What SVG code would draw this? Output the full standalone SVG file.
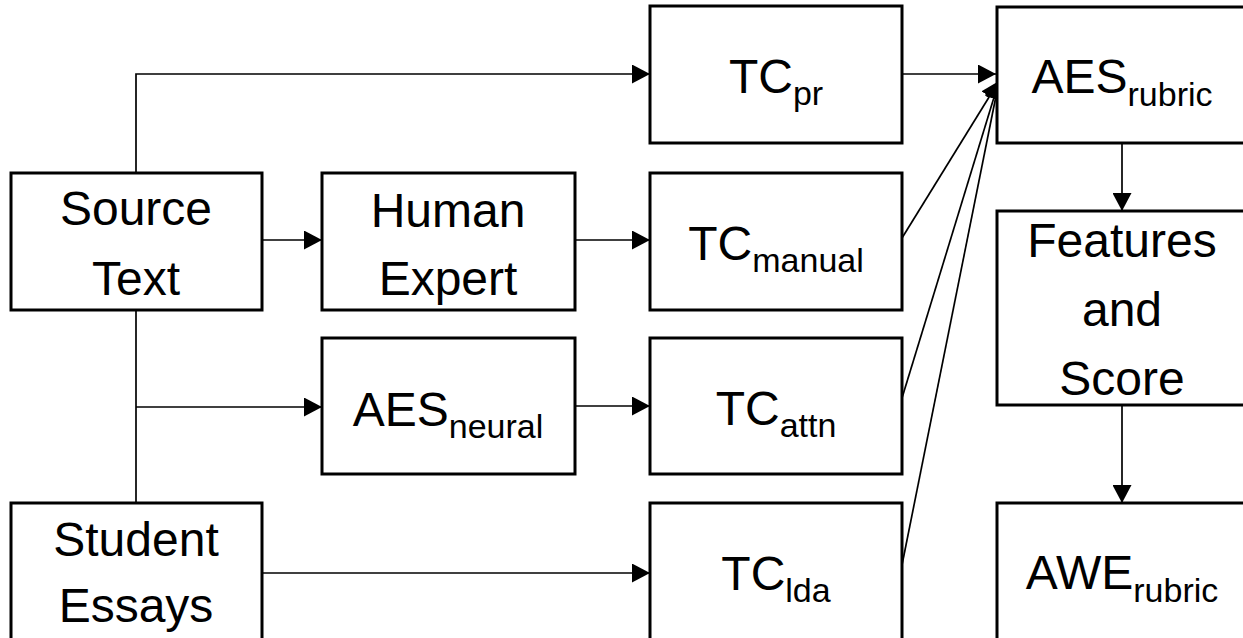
<svg xmlns="http://www.w3.org/2000/svg" width="1243" height="638" viewBox="0 0 1243 638">
  <style>
    .box { fill: #ffffff; stroke: #000000; stroke-width: 3; }
    .lbl { font-family: "Liberation Sans", Arial, sans-serif; font-size: 48px; fill: #000000; text-anchor: middle; }
    .sub { font-size: 34px; }
    .wire { fill: none; stroke: #000000; stroke-width: 1.7; }
    .arr { marker-end: url(#head); }
  </style>
  <defs>
    <marker id="head" markerUnits="userSpaceOnUse" markerWidth="19" markerHeight="19" refX="18" refY="9.5" orient="auto" viewBox="0 0 19 19">
      <path d="M0,0 L18,9.5 L0,19 Z" fill="#000000"/>
    </marker>
  </defs>

  <rect width="1243" height="638" fill="#ffffff"/>

  <!-- connectors -->
  <g id="connectors">
    <polyline class="wire arr" points="136,173 136,74 650,74"/>
    <line class="wire arr" x1="262" y1="240" x2="322" y2="240"/>
    <line class="wire arr" x1="575" y1="240" x2="650" y2="240"/>
    <line class="wire" x1="136" y1="310" x2="136" y2="503"/>
    <line class="wire arr" x1="136" y1="407" x2="322" y2="407"/>
    <line class="wire arr" x1="575" y1="406" x2="650" y2="406"/>
    <line class="wire arr" x1="262" y1="573" x2="650" y2="573"/>
    <line class="wire arr" x1="902" y1="74" x2="996" y2="74"/>
    <line class="wire arr" x1="902" y1="238" x2="999" y2="81"/>
    <line class="wire arr" x1="902" y1="398" x2="999" y2="81"/>
    <line class="wire arr" x1="902" y1="565" x2="999" y2="81"/>
    <line class="wire arr" x1="1122" y1="143" x2="1122" y2="211"/>
    <line class="wire arr" x1="1122" y1="405" x2="1122" y2="503"/>
  </g>

  <!-- input nodes -->
  <g id="source-text">
    <rect class="box" x="11" y="173" width="251" height="137"/>
    <text class="lbl" x="136" y="225">Source</text>
    <text class="lbl" x="136" y="295">Text</text>
  </g>
  <g id="student-essays">
    <rect class="box" x="11" y="503" width="251" height="137"/>
    <text class="lbl" x="136" y="556">Student</text>
    <text class="lbl" x="136" y="622">Essays</text>
  </g>

  <!-- intermediate nodes -->
  <g id="human-expert">
    <rect class="box" x="322" y="173" width="253" height="137"/>
    <text class="lbl" x="448" y="227">Human</text>
    <text class="lbl" x="448" y="295">Expert</text>
  </g>
  <g id="aes-neural">
    <rect class="box" x="322" y="338" width="253" height="136"/>
    <text class="lbl" x="448" y="426">AES<tspan class="sub" dy="12">neural</tspan></text>
  </g>

  <!-- topic component nodes -->
  <g id="tc-pr">
    <rect class="box" x="650" y="6" width="252" height="137"/>
    <text class="lbl" x="776" y="93">TC<tspan class="sub" dy="12">pr</tspan></text>
  </g>
  <g id="tc-manual">
    <rect class="box" x="650" y="173" width="252" height="137"/>
    <text class="lbl" x="776" y="260">TC<tspan class="sub" dy="12">manual</tspan></text>
  </g>
  <g id="tc-attn">
    <rect class="box" x="650" y="338" width="252" height="136"/>
    <text class="lbl" x="776" y="425">TC<tspan class="sub" dy="12">attn</tspan></text>
  </g>
  <g id="tc-lda">
    <rect class="box" x="650" y="503" width="252" height="137"/>
    <text class="lbl" x="776" y="590">TC<tspan class="sub" dy="12">lda</tspan></text>
  </g>

  <!-- output nodes -->
  <g id="aes-rubric">
    <rect class="box" x="997" y="7" width="252" height="136"/>
    <text class="lbl" x="1122" y="93">AES<tspan class="sub" dy="13">rubric</tspan></text>
  </g>
  <g id="features-score">
    <rect class="box" x="997" y="211" width="252" height="194"/>
    <text class="lbl" x="1122" y="257">Features</text>
    <text class="lbl" x="1122" y="326">and</text>
    <text class="lbl" x="1122" y="395">Score</text>
  </g>
  <g id="awe-rubric">
    <rect class="box" x="997" y="503" width="252" height="137"/>
    <text class="lbl" x="1122" y="589">AWE<tspan class="sub" dy="13">rubric</tspan></text>
  </g>
</svg>
